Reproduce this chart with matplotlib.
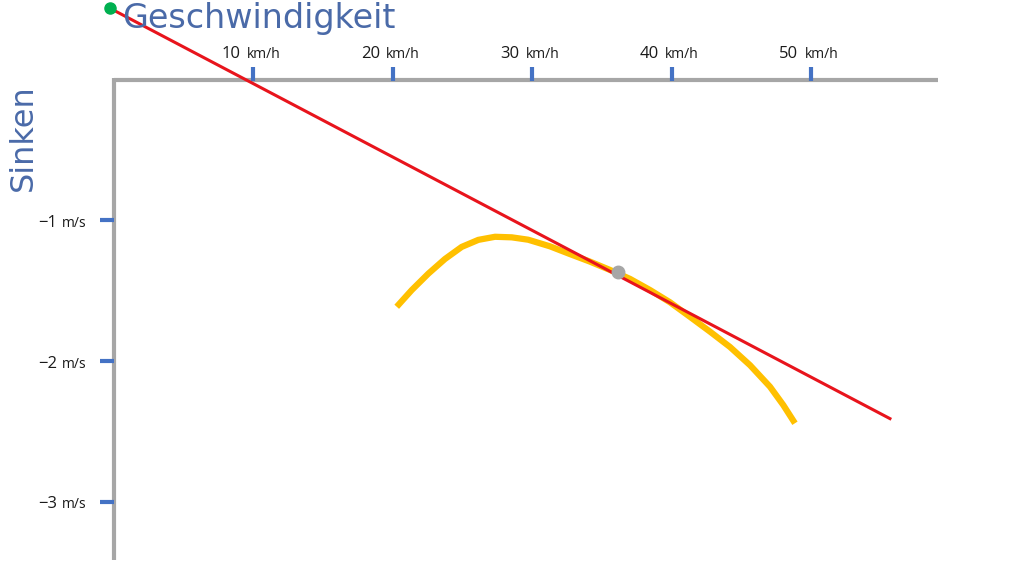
import matplotlib
matplotlib.use("Agg")
import matplotlib.pyplot as plt

# ---- data ----
speed_ticks = [10, 20, 30, 40, 50]          # km/h
sink_ticks = [-1, -2, -3]                    # m/s
polar_speed = [20.30, 21.38, 22.57, 23.76, 24.96, 26.15, 27.35, 28.55, 29.73,
               31.29, 32.72, 34.16, 35.59, 37.03, 38.46, 39.89, 41.33, 42.76,
               44.19, 45.63, 47.06, 48.01, 48.85]
polar_sink = [-1.614, -1.495, -1.378, -1.274, -1.188, -1.138, -1.116, -1.120, -1.137,
              -1.184, -1.239, -1.293, -1.352, -1.416, -1.495, -1.582, -1.686, -1.791,
              -1.900, -2.030, -2.183, -2.313, -2.443]
tangent_speed = [-0.25, 55.66]
tangent_sink = [0.51, -2.41]
origin_point = (-0.25, 0.51)
best_glide_point = (36.16, -1.37)
x_title = "Geschwindigkeit"
y_title = "Sinken"
x_unit = "km/h"
y_unit = "m/s"

AXIS_GRAY = "#a6a6a6"
TICK_BLUE = "#4472c4"
TITLE_BLUE = "#4a6aa8"

fig = plt.figure(figsize=(10.24, 5.76), dpi=100)
ax = fig.add_axes([0, 0, 1, 1])
ax.set_xlim(-8.14, 65.27)
ax.set_ylim(-3.530, 0.569)
ax.axis("off")

# axes lines
ax.plot([0, 59.1], [0, 0], color=AXIS_GRAY, lw=3, solid_capstyle="butt", zorder=1)
ax.plot([0, 0], [0.014, -3.416], color=AXIS_GRAY, lw=3, solid_capstyle="butt", zorder=1)

# x ticks and labels
for v in speed_ticks:
    ax.plot([v, v], [0.093, -0.005], color=TICK_BLUE, lw=3, solid_capstyle="butt", zorder=2)
    ax.annotate(str(v), xy=(v, 0), xytext=(-9, 16), textcoords="offset points",
                ha="right", va="baseline", fontsize=12, color="#1a1a1a",
                family="Open Sans")
    ax.annotate(x_unit, xy=(v, 0), xytext=(-4.5, 16), textcoords="offset points",
                ha="left", va="baseline", fontsize=10, color="#1a1a1a",
                family="Open Sans")

# y ticks and labels
for v in sink_ticks:
    ax.plot([-0.95, 0], [v, v], color=TICK_BLUE, lw=3, solid_capstyle="butt", zorder=2)
    ax.annotate(str(v).replace("-", "\u2212"), xy=(0, v), xytext=(-40.5, -5),
                textcoords="offset points", ha="right", va="baseline",
                fontsize=12, color="#1a1a1a", family="Open Sans")
    ax.annotate(y_unit, xy=(0, v), xytext=(-37.5, -5), textcoords="offset points",
                ha="left", va="baseline", fontsize=10, color="#1a1a1a",
                family="Open Sans")

# curves
ax.plot(polar_speed, polar_sink, color="#ffc000", lw=4.5, solid_capstyle="butt",
        solid_joinstyle="round", zorder=3)
ax.plot(tangent_speed, tangent_sink, color="#e8141c", lw=2.2, zorder=4)
ax.plot(*origin_point, "o", color="#00b050", ms=8, zorder=5)
ax.plot(*best_glide_point, "o", color="#a6a6a6", ms=9, zorder=5)

# titles
fig.text(122 / 1024, 1 - 28 / 576, x_title, ha="left", va="baseline",
         fontsize=24, color=TITLE_BLUE, family="DejaVu Sans")
fig.text(39 / 1024, 1 - 138 / 576, y_title, ha="right", va="center", rotation=90,
         fontsize=23, color=TITLE_BLUE, family="DejaVu Sans")

fig.savefig("out.png", dpi=100, facecolor="white")
